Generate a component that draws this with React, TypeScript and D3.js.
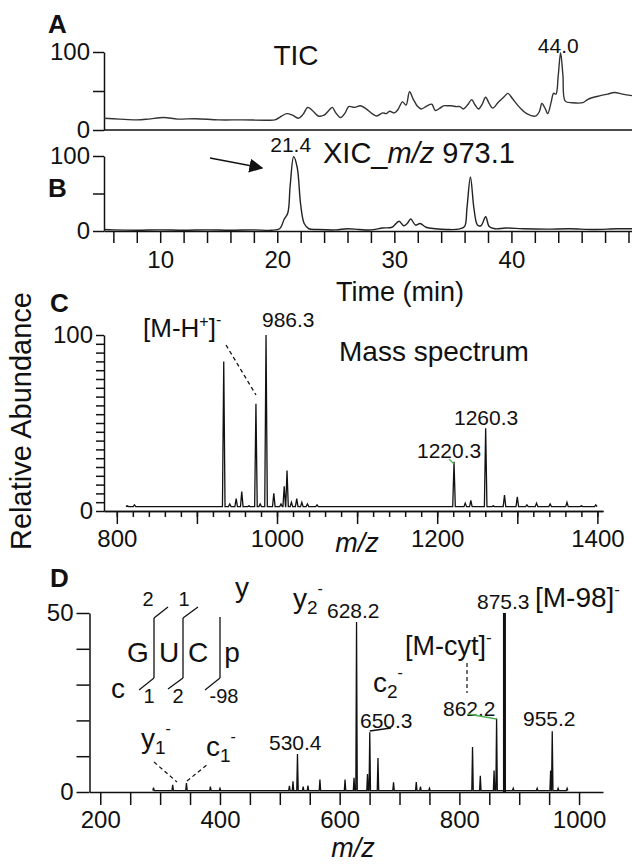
import React, { useRef, useEffect } from "react";
import * as d3 from "d3";

const W = 632;
const H = 866;
const FONT = "'Liberation Sans', Arial, Helvetica, sans-serif";

// panel A - total ion chromatogram (min, % rel. abundance)
const ticTime = [5.2, 6.5, 8, 9, 10.3, 11.5, 13, 15, 17, 19, 19.8, 20.4, 20.8, 21.3, 21.8, 22.2, 22.6, 23, 23.5, 24, 24.4, 24.7, 25, 25.4, 25.8, 26.1, 26.6, 27.1, 27.6, 28.1, 28.5, 29, 29.3, 29.6, 30, 30.3, 30.7, 31, 31.3, 31.6, 32, 32.3, 32.8, 33.2, 33.5, 33.9, 34.2, 34.6, 34.9, 35.3, 35.6, 35.9, 36.3, 36.6, 36.9, 37.2, 37.5, 37.8, 38.1, 38.4, 38.9, 39.4, 39.7, 40.1, 40.7, 41.3, 42.1, 42.4, 42.6, 42.9, 43.1, 43.4, 43.6, 43.8, 44, 44.2, 44.4, 44.6, 45.2, 46.1, 46.5, 46.8, 47.6, 48.2, 48.8, 49.5, 50.3];
const ticValue = [15, 14, 13, 14, 16, 14, 14.5, 13, 13, 12.5, 13, 18, 21, 19, 15, 20, 29, 25, 18, 19, 25, 29, 22, 16, 22, 30, 29, 31, 27, 21, 18, 22, 21, 24, 22, 26, 36, 32, 49, 40, 30, 27, 31, 33, 25, 28, 31, 31, 31, 30, 30, 27, 33, 39, 32, 27, 33, 42, 34, 28, 36, 43, 47, 40, 29, 21, 18, 24, 34, 27, 21, 36, 47, 46, 70, 99, 70, 37, 35, 35, 39, 41, 44, 46, 48, 46, 44];

// panel B - extracted ion chromatogram m/z 973.1
const xicTime = [5.2, 6, 8, 10, 12, 14, 16, 18, 19.5, 20.2, 20.6, 20.9, 21.1, 21.4, 21.7, 22, 22.3, 22.7, 23.5, 25, 26, 27, 28, 29, 29.8, 30.4, 30.8, 31.1, 31.4, 31.8, 32.2, 32.7, 33.5, 34.5, 35.5, 36, 36.2, 36.5, 36.8, 37.1, 37.4, 37.8, 38.1, 38.6, 39.5, 41, 43, 45, 47, 49, 50.3];
const xicValue = [2, 1.5, 1, 1.5, 1, 1.5, 1, 1.5, 1, 3, 16, 24, 60, 99, 85, 35, 10, 3, 2, 1.5, 3, 2, 1.5, 4, 5, 13, 7, 10, 16, 8, 10, 5, 3, 2, 2.5, 6, 30, 72, 30, 8, 7, 19, 6, 3, 4, 3, 2.5, 3, 2, 3, 3];

// panel C - mass spectrum (m/z, %)
const msMz = [813, 822, 933.5, 941, 949, 956, 965, 973.7, 979, 986.3, 996, 1005, 1009, 1012.5, 1018, 1024.6, 1031, 1038, 1050, 1221, 1235, 1242, 1260.5, 1270, 1284, 1300, 1312, 1324, 1341, 1362, 1380, 1398];
const msInt = [3, 3.5, 85, 4, 7, 11, 3, 61, 4, 100, 10, 4, 14, 23, 5, 7, 5, 4, 3.5, 28, 4.5, 6, 47, 3, 9, 8, 3.5, 4.5, 4, 5, 3, 3.5];

// panel D - MS/MS spectrum (m/z, %)
const msmsMz = [289, 321, 344, 384, 400, 516, 522, 529.5, 539, 547, 567, 609, 624, 628.2, 646.5, 650.3, 664, 690, 728, 735, 750, 822, 835, 858, 862.2, 875.3, 890, 930, 952.5, 955.2, 965, 980];
const msmsInt = [1.2, 2, 2.5, 1.5, 1, 1.7, 3, 10.6, 1.5, 1.8, 3.5, 3.5, 4, 47.5, 5, 16.7, 9.5, 2.7, 2.8, 1.5, 1, 12.6, 4.5, 6, 20.5, 50, 1, 1, 6, 17, 1, 1];

const timeLabels = [10, 20, 30, 40];
const msXLabels = [800, 1000, 1200, 1400];
const msmsXLabels = [200, 400, 600, 800, 1000];

// stick spectrum -> narrow triangles on a baseline
function sticks(mz: number[], ints: number[], half: number, base: number) {
  const pts: [number, number][] = [];
  mz.forEach((m, i) => {
    pts.push([m - half, base], [m, ints[i]], [m + half, base]);
  });
  return pts;
}

const App = () => {
  const ref = useRef<SVGSVGElement>(null);

  useEffect(() => {
    const svg = d3.select(ref.current);
    svg.selectAll("*").remove();

    const xT = d3.scaleLinear().domain([5.2, 50.3]).range([104, 632]);
    const yA = d3.scaleLinear().domain([0, 100]).range([130, 52]);
    const yB = d3.scaleLinear().domain([0, 100]).range([231, 156]);
    const xC = d3.scaleLinear().domain([784, 1407]).range([104, 603]);
    const yC = d3.scaleLinear().domain([0, 100]).range([511, 335]);
    const xD = d3.scaleLinear().domain([182, 1040]).range([89.5, 603]);
    const yD = d3.scaleLinear().domain([0, 50]).range([792, 613]);

    const styleAxis = (g: any, fs = 24) => {
      g.attr("font-family", FONT).attr("font-size", fs);
      g.selectAll("path,line").attr("stroke", "#111").attr("stroke-width", 1.5);
      g.selectAll("text").attr("fill", "#111");
    };

    const only = (vals: number[]) => (d: any) => (vals.includes(+d) ? String(d) : "");

    // ---- panel A
    svg.append("g")
      .attr("transform", "translate(104,0)")
      .call(d3.axisLeft(yA).tickValues([0, 50, 100]).tickSize(11).tickSizeOuter(0).tickPadding(3).tickFormat(only([0, 100])))
      .call(styleAxis);
    svg.append("line")
      .attr("x1", 104).attr("x2", 632).attr("y1", yA(0)).attr("y2", yA(0))
      .attr("stroke", "#111").attr("stroke-width", 1.5);

    const lineA = d3.line<number>()
      .x((_, i) => xT(ticTime[i]))
      .y((d) => yA(d))
      .curve(d3.curveCatmullRom.alpha(0.5));
    svg.append("path").attr("d", lineA(ticValue))
      .attr("fill", "none").attr("stroke", "#333").attr("stroke-width", 1.4);

    // ---- panel B
    svg.append("g")
      .attr("transform", "translate(104,0)")
      .call(d3.axisLeft(yB).tickValues([0, 50, 100]).tickSize(11).tickSizeOuter(0).tickPadding(3).tickFormat(only([0, 100])))
      .call(styleAxis);
    svg.append("g")
      .attr("transform", `translate(0,${yB(0)})`)
      .call(d3.axisBottom(xT).tickValues(d3.range(6, 51, 2)).tickSize(12).tickSizeOuter(0).tickPadding(8).tickFormat(only(timeLabels)))
      .call(styleAxis);

    const lineB = d3.line<number>()
      .x((_, i) => xT(xicTime[i]))
      .y((d) => yB(d))
      .curve(d3.curveCatmullRom.alpha(0.5));
    svg.append("path").attr("d", lineB(xicValue))
      .attr("fill", "none").attr("stroke", "#222").attr("stroke-width", 1.4);

    // ---- panel C
    svg.append("g")
      .attr("transform", "translate(104,0)")
      .call(d3.axisLeft(yC).tickValues(d3.range(0, 101, 5)).tickSize(8).tickSizeOuter(0).tickPadding(3).tickFormat(only([0, 100])))
      .call(styleAxis);
    svg.append("g")
      .attr("transform", `translate(0,${yC(0)})`)
      .call(d3.axisBottom(xC).tickValues(d3.range(800, 1401, 20)).tickSize(6).tickSizeOuter(0).tickFormat(() => ""))
      .call(styleAxis);
    svg.append("g")
      .attr("transform", `translate(0,${yC(0)})`)
      .call(d3.axisBottom(xC).tickValues(d3.range(800, 1401, 100)).tickSize(13).tickSizeOuter(0).tickPadding(6).tickFormat(only(msXLabels)))
      .call(styleAxis);

    const lineC = d3.line<[number, number]>()
      .x((d) => xC(d[0]))
      .y((d) => yC(d[1]));
    svg.append("path").attr("d", lineC(sticks(msMz, msInt, 1.6, 2.5)))
      .attr("fill", "none").attr("stroke", "#111").attr("stroke-width", 1.3);

    // ---- panel D
    svg.append("g")
      .attr("transform", "translate(89.5,0)")
      .call(d3.axisLeft(yD).tickValues(d3.range(0, 51, 10)).tickSize(13).tickSizeOuter(0).tickPadding(3).tickFormat(only([0, 50])))
      .call(styleAxis);
    svg.append("g")
      .attr("transform", `translate(0,${yD(0)})`)
      .call(d3.axisBottom(xD).tickValues(d3.range(200, 1001, 50)).tickSize(13).tickSizeOuter(0).tickPadding(6).tickFormat(only(msmsXLabels)))
      .call(styleAxis);

    const lineD = d3.line<[number, number]>()
      .x((d) => xD(d[0]))
      .y((d) => yD(d[1]));
    svg.append("path").attr("d", lineD(sticks(msmsMz, msmsInt, 1.2, 0.4)))
      .attr("fill", "none").attr("stroke", "#111").attr("stroke-width", 1.3);
    // base peak is drawn heavier
    svg.append("line")
      .attr("x1", xD(875.3)).attr("x2", xD(875.3)).attr("y1", yD(0)).attr("y2", yD(50))
      .attr("stroke", "#111").attr("stroke-width", 3);

    // ---- text & annotations
    const t = (x: number, y: number, s: string, fs: number, extra: any = {}) => {
      const el = svg.append("text").attr("x", x).attr("y", y)
        .attr("font-family", FONT).attr("font-size", fs).attr("fill", "#111").text(s);
      Object.entries(extra).forEach(([k, v]) => el.attr(k, v as any));
      return el;
    };
    // ion label: letter, subscript number, superscript minus
    const ion = (x: number, y: number, letter: string, n: string) => {
      const el = t(x, y, "", 28);
      el.append("tspan").text(letter);
      el.append("tspan").attr("font-size", 19).attr("dy", 6).text(n);
      el.append("tspan").attr("font-size", 16).attr("dy", -20).text("-");
      return el;
    };

    t(48, 33, "A", 26, { "font-weight": "bold" });
    t(48, 197, "B", 26, { "font-weight": "bold" });
    t(50, 312, "C", 26, { "font-weight": "bold" });
    t(50, 587, "D", 26, { "font-weight": "bold" });

    t(296, 65, "TIC", 28, { "text-anchor": "middle" });
    t(xT(44.0), 53, "44.0", 21, { "text-anchor": "middle" });
    t(xT(21.4) - 3, 152, "21.4", 21, { "text-anchor": "middle" });

    const xic = t(323, 163, "", 29);
    xic.append("tspan").text("XIC_");
    xic.append("tspan").attr("font-style", "italic").text("m/z");
    xic.append("tspan").text(" 973.1");

    svg.append("defs").append("marker")
      .attr("id", "ah").attr("viewBox", "0 0 10 10").attr("refX", 9).attr("refY", 5)
      .attr("markerWidth", 14).attr("markerHeight", 14).attr("markerUnits", "userSpaceOnUse")
      .attr("orient", "auto")
      .append("path").attr("d", "M0,0 L10,5 L0,10 z").attr("fill", "#111");
    svg.append("line")
      .attr("x1", 210).attr("y1", 158).attr("x2", 262).attr("y2", 168)
      .attr("stroke", "#111").attr("stroke-width", 1.5).attr("marker-end", "url(#ah)");

    t(400, 301, "Time (min)", 27, { "text-anchor": "middle" });

    svg.append("text")
      .attr("transform", "translate(31,421) rotate(-90)")
      .attr("text-anchor", "middle").attr("font-family", FONT).attr("font-size", 29)
      .attr("fill", "#111").text("Relative Abundance");

    // C annotations
    const mh = t(143, 337, "", 26);
    mh.append("tspan").text("[M-H");
    mh.append("tspan").attr("font-size", 16).attr("dy", -10).text("+");
    mh.append("tspan").attr("dy", 10).text("]");
    mh.append("tspan").attr("font-size", 16).attr("dy", -12).text("-");
    svg.append("line").attr("x1", 226).attr("y1", 345).attr("x2", 256).attr("y2", 395)
      .attr("stroke", "#111").attr("stroke-width", 1.3).attr("stroke-dasharray", "4,3");
    t(262, 327, "986.3", 21);
    t(339, 361, "Mass spectrum", 28);
    t(454, 425, "1260.3", 21);
    t(417, 458, "1220.3", 21);
    svg.append("line").attr("x1", 449).attr("y1", 459).attr("x2", xC(1221)).attr("y2", 464)
      .attr("stroke", "#4caf50").attr("stroke-width", 1.3);
    t(357, 552, "m/z", 27, { "text-anchor": "middle", "font-style": "italic" });

    // D structure sketch
    const ln = (x1: number, y1: number, x2: number, y2: number) =>
      svg.append("line").attr("x1", x1).attr("y1", y1).attr("x2", x2).attr("y2", y2)
        .attr("stroke", "#111").attr("stroke-width", 1.3);
    ln(154, 618, 154, 678); ln(183, 618, 183, 678); ln(220, 617, 220, 678);
    ln(154, 618, 168, 607); ln(183, 618, 198, 607);
    ln(154, 678, 139, 690); ln(183, 678, 168, 689); ln(220, 678, 205, 690);
    t(148, 606, "2", 20, { "text-anchor": "middle" });
    t(184, 606, "1", 20, { "text-anchor": "middle" });
    t(242, 597, "y", 28, { "text-anchor": "middle" });
    t(138, 662, "G", 28, { "text-anchor": "middle" });
    t(169, 662, "U", 28, { "text-anchor": "middle" });
    t(198, 662, "C", 28, { "text-anchor": "middle" });
    t(232, 662, "p", 28, { "text-anchor": "middle" });
    t(118, 698, "c", 28, { "text-anchor": "middle" });
    t(149, 703, "1", 20, { "text-anchor": "middle" });
    t(178, 703, "2", 20, { "text-anchor": "middle" });
    t(224, 703, "-98", 20, { "text-anchor": "middle" });

    // D annotations
    ion(293, 608, "y", "2");
    t(327, 618, "628.2", 21);
    t(477, 609, "875.3", 21);
    const m98 = t(535, 607, "[M-98]", 28);
    m98.append("tspan").attr("font-size", 17).attr("dy", -12).text("-");
    const cyt = t(405, 655, "[M-cyt]", 27);
    cyt.append("tspan").attr("font-size", 17).attr("dy", -12).text("-");
    svg.append("line").attr("x1", 467).attr("y1", 663).attr("x2", 467).attr("y2", 693)
      .attr("stroke", "#111").attr("stroke-width", 1.2).attr("stroke-dasharray", "4,3");
    t(443, 716, "862.2", 21);
    svg.append("line").attr("x1", 468).attr("y1", 714).attr("x2", xD(862.2)).attr("y2", 719)
      .attr("stroke", "#4caf50").attr("stroke-width", 1.3);
    t(523, 726, "955.2", 21);
    ion(373, 692, "c", "2");
    t(360, 728, "650.3", 21);
    ln(xD(650.3), 731, 391, 728);
    t(269, 750, "530.4", 21);
    ion(141, 748, "y", "1");
    ion(206, 756, "c", "1");
    svg.append("line").attr("x1", 154).attr("y1", 762).attr("x2", 177).attr("y2", 782)
      .attr("stroke", "#111").attr("stroke-width", 1.2).attr("stroke-dasharray", "4,3");
    svg.append("line").attr("x1", 187).attr("y1", 781).attr("x2", 208).attr("y2", 764)
      .attr("stroke", "#111").attr("stroke-width", 1.2).attr("stroke-dasharray", "4,3");
    t(353, 857, "m/z", 27, { "text-anchor": "middle", "font-style": "italic" });
  }, []);

  return (
    <svg ref={ref} width={W} height={H}
      style={{ position: "absolute", left: 0, top: 0, background: "#fff" }} />
  );
};

export default App;
